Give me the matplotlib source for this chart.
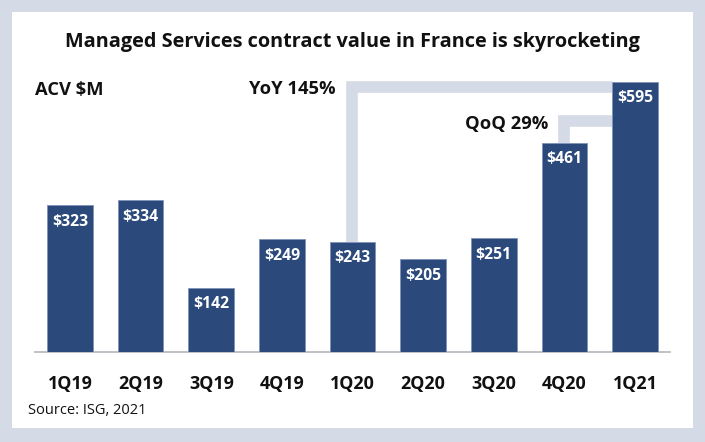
import matplotlib.pyplot as plt
from matplotlib.patches import Rectangle

plt.rcParams['font.family'] = ['Open Sans', 'DejaVu Sans']

# data
quarters = ['1Q19', '2Q19', '3Q19', '4Q19', '1Q20', '2Q20', '3Q20', '4Q20', '1Q21']
acv = [323, 334, 142, 249, 243, 205, 251, 461, 595]
yoy_from, yoy_to, yoy_label = 4, 8, 'YoY 145%'
qoq_from, qoq_to, qoq_label = 7, 8, 'QoQ 29%'

bar_color = '#2b4a7b'
frame_color = '#d5dbe6'
text_color = '#111111'

W, H = 705, 442
fig = plt.figure(figsize=(W / 100, H / 100), dpi=100)
fig.patch.set_facecolor(frame_color)
fig.patches.append(Rectangle((12 / W, 14 / H), (W - 24) / W, (H - 26) / H,
                             transform=fig.transFigure, facecolor='white',
                             edgecolor='none', zorder=-10))

ax = fig.add_axes([34.7 / W, (H - 352.3) / H, 635.6 / W, 295.8 / H])
ax.set_facecolor('none')
x = list(range(len(quarters)))
bar_w = 0.645
ax.bar(x, acv, width=bar_w, color=bar_color, edgecolor='#7f93b8', linewidth=0.6, zorder=3)
ax.set_xlim(-0.5, len(quarters) - 0.5)
ax.set_ylim(0, 650)

for xi, v in zip(x, acv):
    ax.annotate(f'${v}', xy=(xi, v), xytext=(0, -12), textcoords='offset points',
                ha='center', va='center', color='white', fontsize=11.3,
                fontweight='bold', zorder=4)

# connectors (thick light lines, px -> data units)
px_per_unit = 295.8 / 650
lw_px = 11.7
half = lw_px / 2 / px_per_unit


def connector(i0, i1, top):
    yc = top - half
    ax.plot([x[i0], x[i0], x[i1] - bar_w / 2], [acv[i0], yc, yc],
            color=frame_color, lw=lw_px * 0.72, solid_joinstyle='miter',
            solid_capstyle='butt', zorder=2)
    return yc


yc = connector(yoy_from, yoy_to, acv[yoy_to])
ax.annotate(yoy_label, xy=(x[yoy_from], yc), xytext=(-12.5, -1.5), textcoords='offset points',
            ha='right', va='center', fontsize=13.2, fontweight='bold', color=text_color)
yc = connector(qoq_from, qoq_to, 521)
ax.annotate(qoq_label, xy=(x[qoq_from], yc), xytext=(-11.5, -2), textcoords='offset points',
            ha='right', va='center', fontsize=13.2, fontweight='bold', color=text_color)

ax.text(0.0, 576, 'ACV $M', transform=ax.get_yaxis_transform(), ha='left', va='center',
        fontsize=13.2, fontweight='bold', color=text_color)

ax.set_xticks(x)
ax.set_xticklabels(quarters, fontsize=12.9, fontweight='bold', color=text_color)
ax.tick_params(axis='x', length=0, pad=16)
ax.set_yticks([])
for s in ['top', 'right', 'left']:
    ax.spines[s].set_visible(False)
ax.spines['bottom'].set_color('#b4b6bc')
ax.spines['bottom'].set_linewidth(1.2)

fig.text(0.5, (H - 42) / H, 'Managed Services contract value in France is skyrocketing',
         ha='center', va='center', fontsize=14.3, fontweight='bold', color=text_color)
fig.text(27.5 / W, (H - 410) / H, 'Source: ISG, 2021', ha='left', va='center',
         fontsize=10.5, color=text_color)

fig.savefig('out.png', dpi=100, facecolor=frame_color)
